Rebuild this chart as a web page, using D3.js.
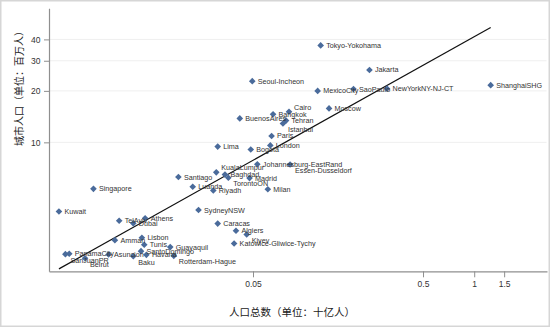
<!DOCTYPE html>
<html><head><meta charset="utf-8">
<script src="https://cdn.jsdelivr.net/npm/d3@7"></script>
<style>
body{margin:0;background:#fff;}
svg{display:block;font-family:"Liberation Sans",Arial,sans-serif;}
</style></head><body>
<svg id="chart" width="550" height="328"></svg>
<script>
// ---- data ----
const cities = ["Tokyo-Yokohama","Jakarta","MexicoCity","SaoPaulo","NewYorkNY-NJ-CT","ShanghaiSHG","Moscow","Cairo","Seoul-Incheon","BuenosAires","Bangkok","Tehran","Istanbul","Paris","London","Lima","Bogota","Johannesburg-EastRand","Essen-Dusseldorf","KualaLumpur","Baghdad","TorontoON","Madrid","Milan","Santiago","Luanda","Riyadh","Singapore","SydneyNSW","Kuwait","TelAviv","Athens","Dubai","Caracas","Algiers","Kiyev","Katowice-Gliwice-Tychy","Amman","Lisbon","Tunis","Guayaquil","PanamaCity","SanJuanPR","Beirut","Asuncion","SantoDomingo","Baku","Havana","Rotterdam-Hague"];
// total population of the country (billions)
const countryPop = [0.125,0.242,0.120,0.195,0.307,1.25,0.140,0.0814,0.0495,0.0418,0.0656,0.0782,0.075,0.0643,0.0632,0.031,0.0485,0.053,0.0826,0.0304,0.0342,0.0358,0.0477,0.0611,0.0182,0.0221,0.0292,0.00576,0.0239,0.00361,0.00816,0.0116,0.00988,0.031,0.0397,0.0459,0.0387,0.0077,0.0111,0.01146,0.0163,0.00415,0.00394,0.00514,0.00707,0.01097,0.00988,0.0118,0.0171];
// city population (millions)
const cityPop = [36.9,26.5,20.0,20.5,20.6,21.6,15.8,15.1,22.8,13.8,14.6,13.4,12.9,10.9,9.6,9.45,9.08,7.45,7.42,6.68,6.48,6.21,6.18,5.32,6.27,5.50,5.23,5.35,4.02,3.94,3.48,3.60,3.36,3.35,3.04,2.89,2.56,2.68,2.77,2.52,2.44,2.23,2.22,2.10,2.21,2.31,2.16,2.20,2.17];
// marker-label clock position (3 = right, 2 = upper right, 4 = lower right)
const labelClock = [3,3,3,3,3,3,3,2,3,3,3,3,4,3,3,3,3,3,4,2,3,4,3,3,3,3,3,3,3,3,3,3,3,3,3,4,3,3,3,3,3,3,4,4,3,3,4,3,4];
const xTicks = [0.05, 0.5, 1, 1.5];
const yTicks = [10, 20, 30, 40];
// fitted line endpoints (billions, millions)
const fitX = [0.00361, 1.25];
const fitY = [1.82, 47.0];

// ---- drawing ----
const W = 550, H = 328;
const svg = d3.select("#chart");
svg.append("rect").attr("x",0.75).attr("y",0.75).attr("width",W-1.5).attr("height",H-2.5)
  .attr("fill","#fff").attr("stroke","#d6d6d6").attr("stroke-width",1.5);

const x = d3.scaleLog().domain([0.003155, 2.68]).range([49, 547]);
const y = d3.scaleLog().domain([1.762, 60.8]).range([271.3, 8.3]);

// grid
svg.append("g").selectAll("line").data(yTicks).join("line")
  .attr("x1", 49).attr("x2", 546.5)
  .attr("y1", d => y(d)).attr("y2", d => y(d))
  .attr("stroke", "#efefef").attr("stroke-width", 1);

// axes
const gy = svg.append("g").attr("transform","translate(49,0)")
  .call(d3.axisLeft(y).tickValues(yTicks).tickFormat(d3.format("d")).tickSize(5).tickSizeOuter(0).tickPadding(3.5));
const gx = svg.append("g").attr("transform","translate(0,271.3)")
  .call(d3.axisBottom(x).tickValues(xTicks).tickFormat(d => String(d)).tickSize(6).tickSizeOuter(0).tickPadding(3.2));
[gx, gy].forEach(g => {
  g.select(".domain").attr("stroke","#8f8f8f").attr("stroke-width",1.2);
  g.selectAll(".tick line").attr("stroke","#8f8f8f").attr("stroke-width",1);
  g.selectAll(".tick text").attr("fill","#333").attr("font-size","8.5px")
    .attr("font-family",'"Liberation Sans",Arial,sans-serif');
});

// fitted line
const pts = fitX.map((v,i) => [v, fitY[i]]);
svg.append("path").datum(pts)
  .attr("d", d3.line().x(d => x(d[0])).y(d => y(d[1])))
  .attr("fill","none").attr("stroke","#111").attr("stroke-width",1.2);

// points
const data = cities.map((c,i) => ({name:c, px:countryPop[i], py:cityPop[i], clock:labelClock[i]}));
const sym = d3.symbol().type(d3.symbolSquare).size(22);
svg.append("g").selectAll("path").data(data).join("path")
  .attr("d", sym)
  .attr("transform", d => `translate(${x(d.px)},${y(d.py)}) rotate(45)`)
  .attr("fill", "#4a6b9b");

const off = {3:[5.5,0], 2:[5,-4.5], 4:[5,6]};
svg.append("g").selectAll("text").data(data).join("text")
  .attr("x", d => x(d.px) + off[d.clock][0])
  .attr("y", d => y(d.py) + off[d.clock][1])
  .attr("dominant-baseline","central")
  .attr("font-size","7.2px").attr("fill","#333")
  .text(d => d.name);

// axis titles
svg.append("text")
  .attr("transform","translate(18,86) rotate(-90)")
  .attr("text-anchor","middle").attr("dominant-baseline","central")
  .attr("font-family",'"Noto Sans CJK SC",sans-serif')
  .attr("font-size","10px").attr("fill","#222")
  .text("城市人口（单位：百万人）");
svg.append("text")
  .attr("x",292).attr("y",311.5)
  .attr("text-anchor","middle").attr("dominant-baseline","central")
  .attr("font-family",'"Noto Sans CJK SC",sans-serif')
  .attr("font-size","10.5px").attr("fill","#222")
  .text("人口总数（单位：十亿人）");
</script>
</body></html>
